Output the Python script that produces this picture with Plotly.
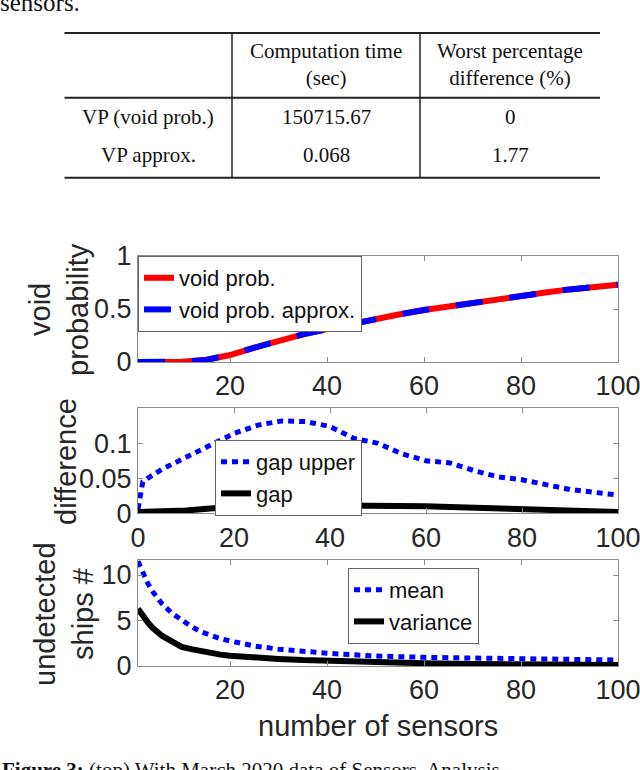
import plotly.graph_objects as go

# ---------------- data ----------------
# table
table_header = ["Computation time<br>(sec)", "Worst percentage<br>difference (%)"]
table_rows = ["VP (void prob.)", "VP approx."]
comp_time = ["150715.67", "0.068"]
worst_diff = ["0", "1.77"]

# top panel: void probability
vp_x = [1, 5, 10, 15, 20, 25, 30, 35, 40, 45, 50, 55, 60, 65, 70, 75, 80, 85, 90, 95, 100]
vp_exact = [0, 0, 0.003, 0.02, 0.066, 0.135, 0.2, 0.26, 0.31, 0.36, 0.41, 0.45, 0.49,
            0.525, 0.555, 0.59, 0.625, 0.655, 0.685, 0.71, 0.73]
vp_approx = [0, 0, 0.003, 0.02, 0.066, 0.135, 0.2, 0.26, 0.31, 0.36, 0.41, 0.45, 0.49,
             0.525, 0.555, 0.59, 0.625, 0.655, 0.685, 0.71, 0.73]

# middle panel: difference
gu_x = [0, 1, 2, 5, 10, 15, 20, 25, 30, 35, 40, 45, 50, 55, 60, 65, 70, 75, 80, 85, 90, 95, 100]
gap_upper = [0.006, 0.045, 0.05, 0.063, 0.08, 0.098, 0.114, 0.126, 0.132, 0.131, 0.124, 0.107,
             0.1, 0.085, 0.075, 0.072, 0.061, 0.052, 0.048, 0.041, 0.034, 0.03, 0.026]
gap_x = [0, 5, 10, 15, 20, 25, 30, 35, 40, 45, 50, 55, 60, 65, 70, 75, 80, 85, 90, 95, 100]
gap = [0.002, 0.002, 0.004, 0.007, 0.01, 0.011, 0.012, 0.012, 0.012, 0.012, 0.0115, 0.011,
       0.01, 0.009, 0.008, 0.007, 0.006, 0.005, 0.004, 0.003, 0.002]

# bottom panel: undetected ships
us_x = [1, 2, 3, 4, 5, 6, 8, 10, 12, 14, 16, 18, 20, 22, 25, 30, 35, 40, 45, 50, 60, 70, 80, 90, 100]
ships_mean = [11.5, 10.2, 9.1, 8.2, 7.5, 6.8, 5.8, 5.0, 4.35, 3.75, 3.35, 3.0, 2.75, 2.5, 2.2,
              1.85, 1.6, 1.4, 1.25, 1.1, 0.95, 0.85, 0.78, 0.72, 0.66]
ships_var = [6.3, 5.5, 4.8, 4.2, 3.7, 3.3, 2.7, 2.1, 1.85, 1.6, 1.4, 1.25, 1.12, 1.02, 0.92,
             0.78, 0.65, 0.55, 0.47, 0.4, 0.3, 0.22, 0.17, 0.13, 0.1]

x_ticks_a = [20, 40, 60, 80, 100]
x_ticks_b = [0, 20, 40, 60, 80, 100]

# ---------------- layout helpers ----------------
W, H = 640, 770


def px(p):
    return p / W


def py(p):
    return 1 - p / H


SANS = "Liberation Sans, Arial, sans-serif"
SERIF = "Liberation Serif, Times New Roman, serif"
AX = "#8c8c8c"
TXT = "#262626"

fig = go.Figure()

fig.add_trace(go.Scatter(x=vp_x, y=vp_exact, mode="lines", name="void prob.",
                         line=dict(color="#ff0000", width=6), xaxis="x", yaxis="y",
                         legend="legend"))
fig.add_trace(go.Scatter(x=vp_x, y=vp_approx, mode="lines", name="void prob. approx.",
                         line=dict(color="#0000ff", width=6, dash="27px,27px"),
                         xaxis="x", yaxis="y", legend="legend"))

fig.add_trace(go.Scatter(x=gu_x, y=gap_upper, mode="lines", name="gap upper",
                         line=dict(color="#0000ff", width=5, dash="6px,5px"),
                         xaxis="x2", yaxis="y2", legend="legend2"))
fig.add_trace(go.Scatter(x=gap_x, y=gap, mode="lines", name="gap",
                         line=dict(color="#000000", width=6),
                         xaxis="x2", yaxis="y2", legend="legend2"))

fig.add_trace(go.Scatter(x=us_x, y=ships_mean, mode="lines", name="mean",
                         line=dict(color="#0000ff", width=5, dash="6px,5px"),
                         xaxis="x3", yaxis="y3", legend="legend3"))
fig.add_trace(go.Scatter(x=us_x, y=ships_var, mode="lines", name="variance",
                         line=dict(color="#000000", width=6),
                         xaxis="x3", yaxis="y3", legend="legend3"))

xdom = [px(138), px(618)]
common_axis = dict(showline=True, linecolor=AX, linewidth=1, mirror="ticks",
                   ticks="inside", ticklen=5, tickcolor=AX, showgrid=False,
                   zeroline=False, automargin=False, ticklabeloverflow="allow",
                   tickfont=dict(family=SANS, size=27, color=TXT))

layout = dict(
    template="none",
    width=W, height=H, autosize=False,
    margin=dict(l=0, r=0, t=0, b=0, pad=0, autoexpand=False),
    paper_bgcolor="white", plot_bgcolor="white",
    font=dict(family=SANS, color=TXT),
    xaxis=dict(domain=xdom, range=[1, 100], tickvals=x_ticks_a, anchor="y", **common_axis),
    yaxis=dict(domain=[py(362), py(256)], range=[0, 1], tickvals=[0, 0.5, 1],
               ticktext=["0", "0.5", "1"], anchor="x", **common_axis),
    xaxis2=dict(domain=xdom, range=[0, 100], tickvals=x_ticks_b, anchor="y2", **common_axis),
    yaxis2=dict(domain=[py(513.3), py(408.3)], range=[0, 0.15], tickvals=[0, 0.05, 0.1],
                ticktext=["0", "0.05", "0.1"], anchor="x2", **common_axis),
    xaxis3=dict(domain=xdom, range=[1, 100], tickvals=x_ticks_a, anchor="y3", **common_axis),
    yaxis3=dict(domain=[py(666), py(560)], range=[0, 11.65], tickvals=[0, 5, 10],
                anchor="x3", **common_axis),
)

leg_common = dict(xanchor="left", yanchor="top", bgcolor="white", bordercolor="#666",
                  borderwidth=1, font=dict(family=SANS, size=22, color="#111"),
                  itemwidth=30, tracegroupgap=0)
layout["legend"] = dict(x=px(138), y=py(256), **leg_common)
layout["legend2"] = dict(x=px(215), y=py(440), **leg_common)
layout["legend3"] = dict(x=px(348), y=py(568), **leg_common)
fig.update_layout(**layout)

ann = []
# axis titles
ann.append(dict(text="void", x=px(40), y=py(310), textangle=-90, font=dict(size=29)))
ann.append(dict(text="probability", x=px(78), y=py(310), textangle=-90, font=dict(size=29)))
ann.append(dict(text="difference", x=px(66), y=py(462), textangle=-90, font=dict(size=29)))
ann.append(dict(text="undetected", x=px(45), y=py(614), textangle=-90, font=dict(size=29)))
ann.append(dict(text="ships #", x=px(83), y=py(614), textangle=-90, font=dict(size=29)))
ann.append(dict(text="number of sensors", x=px(378), y=py(726), font=dict(size=29)))
for a in ann:
    a.update(xref="paper", yref="paper", showarrow=False, xanchor="center", yanchor="middle")
    a["font"].update(family=SANS, color=TXT)

# table text
tfont = dict(family=SERIF, size=21, color="#111")
col_cx = [px(148), px(326), px(510)]
for i, h in enumerate(table_header):
    ann.append(dict(text=h, x=col_cx[i + 1], y=py(64), xref="paper", yref="paper",
                    showarrow=False, xanchor="center", yanchor="middle", font=tfont))
row_cy = [py(116.7), py(155)]
for r in range(len(table_rows)):
    for c, val in enumerate([table_rows[r], comp_time[r], worst_diff[r]]):
        ann.append(dict(text=val, x=col_cx[c], y=row_cy[r], xref="paper", yref="paper",
                        showarrow=False, xanchor="center", yanchor="middle", font=tfont))
# surrounding page text
ann.append(dict(text="sensors.", x=px(-2), y=py(18), xref="paper", yref="paper",
                showarrow=False, xanchor="left", yanchor="bottom",
                font=dict(family=SERIF, size=25, color="#111")))
ann.append(dict(text="<b>Figure 3:</b> (top) With March 2020 data of Sensors. Analysis",
                x=px(0), y=py(756), xref="paper", yref="paper", showarrow=False,
                xanchor="left", yanchor="top", font=dict(family=SERIF, size=21, color="#111")))
fig.update_layout(annotations=ann)

# table rules
shapes = []
for yy, w in [(33, 2), (97.7, 2), (177.7, 2)]:
    shapes.append(dict(type="line", xref="paper", yref="paper", x0=px(64.5), x1=px(600),
                       y0=py(yy), y1=py(yy), line=dict(color="#222", width=w)))
for xx in [232, 420]:
    shapes.append(dict(type="line", xref="paper", yref="paper", x0=px(xx), x1=px(xx),
                       y0=py(33), y1=py(177.7), line=dict(color="#222", width=1.5)))
fig.update_layout(shapes=shapes)

fig.write_html("out.html", config={"displayModeBar": False},
               post_script="document.body.style.margin='0';")
